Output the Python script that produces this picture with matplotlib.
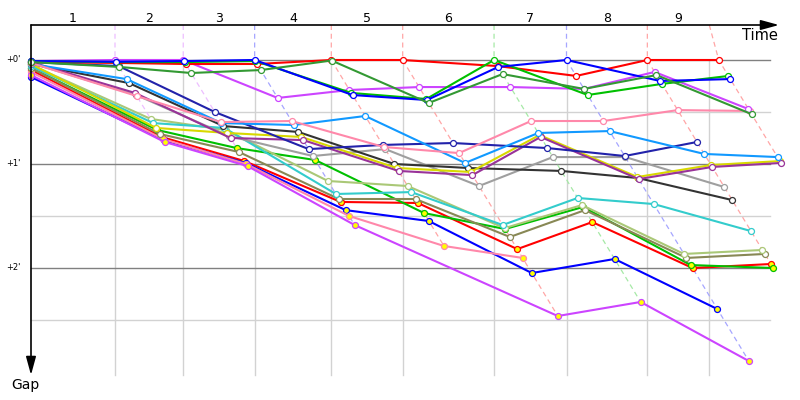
import numpy as np
import matplotlib
matplotlib.use('Agg')
import matplotlib.pyplot as plt
from matplotlib.colors import to_rgb

# race time (s) of the leader at the end of each lap, lap 0 = start
lap_ref = [0, 80, 145, 213, 286, 354, 441, 510, 587, 655]
# lap marks on the time axis
lap_marks = [80, 145, 213, 286, 354, 441, 510, 587, 646]
lap_names = ['1', '2', '3', '4', '5', '6', '7', '8', '9']
gap_ticks = [0, 60, 120]
gap_minor = [30, 90, 150]
gap_names = ["+0'", "+1'", "+2'"]

# gap to the leader (s), one value per lap from the start
red_gap = [1.2, 1.7, 2.3, 2.3, 0, 0, 3.5, 9.2, 0, 0]
blue_gap = [0.6, 1.0, 0.6, 0, 20.2, 23.1, 4.0, 0, 12.1, 11.0]
green_gap = [0.6, 1.2, 1.2, 0.6, 19.0, 22.5, 0, 20.2, 13.8, 9.2]
forest_gap = [1.2, 4.0, 7.5, 5.8, 0.3, 24.8, 8.1, 16.7, 8.7, 31.2]
violet_gap = [0.6, 0, 0, 21.9, 17.3, 15.6, 15.6, 16.7, 6.9, 28.3]
pink_gap = [1.7, 20.8, 35.8, 35.2, 50.2, 53.7, 35.2, 35.2, 28.9, 29.4]
sky_gap = [2.3, 11.0, 36.4, 37.5, 32.3, 59.4, 42.1, 41.0, 54.2, 56.0]
navy_gap = [1.2, 3.5, 30.0, 51.4, 49.0, 47.9, 50.8, 55.4, 47.3]
black_gap = [2.3, 13.3, 38.1, 41.5, 60.0, 62.3, 64.0, 68.1, 80.8]
grey_gap = [1.7, 20.2, 43.9, 55.4, 51.4, 72.7, 56.0, 56.0, 73.3]
yellow_gap = [2.3, 39.2, 42.1, 44.4, 62.3, 64.6, 43.3, 67.5, 60.6, 58.3]
purple_gap = [1.2, 19.0, 45.0, 46.2, 64.0, 66.4, 44.4, 68.7, 61.7, 59.4]
khaki_gap = [2.9, 34.0, 40.4, 69.8, 72.7, 97.0, 83.7, 111.9, 109.6]
teal_gap = [3.5, 36.4, 39.2, 77.3, 76.2, 95.2, 79.6, 83.1, 98.7]
olive_gap = [4.6, 42.7, 53.1, 80.2, 80.2, 102.1, 86.6, 114.2, 111.9]
# cars with yellow markers
red2_gap = [5.8, 44.4, 58.3, 81.9, 82.5, 109.1, 93.5, 120.0, 117.7]
green2_gap = [4.6, 40.4, 50.8, 57.7, 88.3, 97.5, 84.8, 118.3, 120.0]
blue2_gap = [9.8, 46.2, 59.4, 86.6, 92.9, 122.9, 114.8, 143.7]
pink2_gap = [6.9, 45.6, 60.0, 90.0, 107.3, 114.2]
violet2_laps = [0, 1, 2, 3, 5, 6, 7]  # no time on lap 4
violet2_gap = [8.7, 47.3, 61.2, 95.2, 147.7, 139.6, 173.7]

W = 'white'
Y = '#ffff00'
cars = [
    (red2_gap, None, '#ff0000', Y),
    (green2_gap, None, '#00c000', Y),
    (blue2_gap, None, '#0000ff', Y),
    (pink2_gap, None, '#ff88aa', Y),
    (violet2_gap, violet2_laps, '#cc44ff', Y),
    (olive_gap, None, '#888855', W),
    (khaki_gap, None, '#aac877', W),
    (teal_gap, None, '#33cccc', W),
    (grey_gap, None, '#9f9f9f', W),
    (black_gap, None, '#333333', W),
    (yellow_gap, None, '#d8d800', W),
    (purple_gap, None, '#993399', W),
    (navy_gap, None, '#2222aa', W),
    (sky_gap, None, '#1199ff', W),
    (pink_gap, None, '#ff88aa', W),
    (violet_gap, None, '#cc44ff', W),
    (red_gap, None, '#ff0000', W),
    (green_gap, None, '#00c000', W),
    (blue_gap, None, '#0000ff', W),
    (forest_gap, None, '#339933', W),
]

# pixel layout of the 800x400 picture: x_px = 31 + 1.05*t, y_px = 60 + 1.7333*gap
XS, YS = 1.05, 104 / 60
G_TOP = (25 - 60) / YS
G_BOT = (375 - 60) / YS
T_END = (770 - 31) / XS


def px_t(px):
    return (px - 31) / XS


def px_g(py):
    return (py - 60) / YS


fig = plt.figure(figsize=(8, 4), dpi=100)
ax = fig.add_axes([0, 0, 1, 1])
ax.set_xlim(px_t(0), px_t(800))
ax.set_ylim(px_g(400), px_g(0))
ax.axis('off')

# grid
for g in gap_minor:
    ax.plot([0, T_END], [g, g], color='#d2d2d2', lw=1, zorder=1)
for g in gap_ticks:
    ax.plot([0, T_END], [g, g], color='#808080', lw=1, zorder=1.1)
for t in lap_marks:
    ax.plot([t, t], [0, G_BOT], color='#d2d2d2', lw=1, zorder=1)

# positions of every car
tracks = []
for gaps, laps, col, face in cars:
    if laps is None:
        laps = list(range(len(gaps)))
    t = [0.0 if k == 0 else lap_ref[k] + g for k, g in zip(laps, gaps)]
    tracks.append((laps, t, gaps, col, face))

# lap lines, drawn in a light shade of the leader's colour
for k in range(1, len(lap_ref)):
    pts = []
    for laps, t, gaps, col, face in tracks:
        if k in laps:
            i = laps.index(k)
            pts.append((gaps[i], t[i], col))
    pts.sort(key=lambda p: p[0])
    light = 1 - 0.35 * (1 - np.array(to_rgb(pts[0][2])))
    xs = [lap_marks[k - 1]] + [p[1] for p in pts]
    ys = [G_TOP] + [p[0] for p in pts]
    ax.plot(xs, ys, color=light, lw=0.9, ls=(0, (4, 3)), zorder=1.5)

for laps, t, gaps, col, face in tracks:
    ax.plot(t, gaps, color=col, lw=1.5, marker='o', ms=4.3, mfc=face,
            mec=col, mew=0.9, zorder=2)

# axes with arrows
ax.annotate('', xy=(px_t(779), G_TOP), xytext=(0, G_TOP),
            arrowprops=dict(arrowstyle='-|>,head_length=1.1,head_width=0.3',
                            color='k', lw=1.2, shrinkA=0, shrinkB=0), zorder=5)
ax.annotate('', xy=(0, px_g(375)), xytext=(0, G_TOP),
            arrowprops=dict(arrowstyle='-|>,head_length=1.1,head_width=0.3',
                            color='k', lw=1.2, shrinkA=0, shrinkB=0), zorder=5)

starts = [0] + lap_marks
for i, name in enumerate(lap_names):
    ax.text((starts[i] + starts[i + 1]) / 2, px_g(18), name, ha='center',
            va='center', fontsize=9, color='k')
for g, name in zip(gap_ticks, gap_names):
    ax.text(px_t(21), g, name, ha='right', va='center', fontsize=6, color='k')
ax.text(px_t(760), px_g(35), 'Time', ha='center', va='center', fontsize=10.5)
ax.text(px_t(25), px_g(385), 'Gap', ha='center', va='center', fontsize=10)

fig.savefig('out.png', dpi=100)
